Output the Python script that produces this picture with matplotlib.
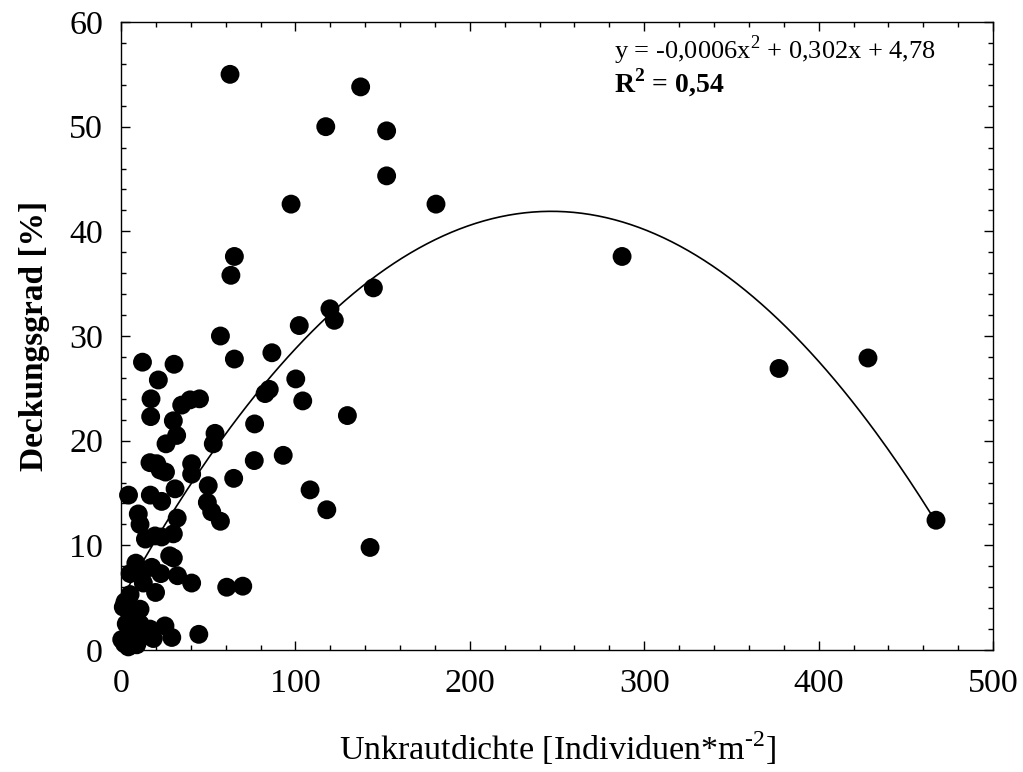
import numpy as np
import matplotlib.pyplot as plt
from matplotlib.ticker import MultipleLocator

# Unkrautdichte [Individuen/m2] und Deckungsgrad [%]
dichte = [62.5, 137.4, 117.4, 152.3, 152.3, 97.5, 180.6, 287.3, 65.0, 63.0,
          144.7, 119.8, 122.3, 102.2, 57.0, 65.0, 428.3, 377.3, 86.5, 12.3,
          30.4, 21.4, 100.2, 17.2, 34.8, 39.6, 45.0, 82.6, 85.0, 104.2,
          129.8, 17.0, 30.0, 76.6, 31.9, 25.8, 53.9, 52.9, 16.6, 20.5,
          22.4, 25.5, 40.5, 40.5, 76.4, 93.0, 64.6, 4.3, 16.8, 23.3,
          31.0, 50.0, 49.5, 52.0, 57.0, 108.4, 118.0, 142.8, 9.9, 10.9,
          32.2, 14.0, 19.5, 23.3, 30.0, 27.9, 30.0, 8.5, 5.2, 11.9,
          17.6, 22.8, 32.4, 40.5, 12.8, 19.8, 60.6, 69.8, 5.2, 2.3,
          1.3, 10.9, 7.1, 10.9, 16.6, 25.2, 29.1, 18.5, 44.6, 0.4,
          4.2, 9.0, 12.8, 5.2, 467.3, 2.0, 6.0, 3.0, 8.0]
deckung = [55.0, 53.8, 50.0, 49.6, 45.3, 42.6, 42.6, 37.6, 37.6, 35.8,
           34.6, 32.6, 31.5, 31.0, 30.0, 27.8, 27.9, 26.9, 28.4, 27.5,
           27.3, 25.8, 25.9, 24.0, 23.4, 23.9, 24.0, 24.5, 24.9, 23.8,
           22.4, 22.3, 21.9, 21.6, 20.5, 19.7, 20.7, 19.7, 17.9, 17.8,
           17.2, 17.0, 17.8, 16.8, 18.1, 18.6, 16.4, 14.8, 14.8, 14.2,
           15.4, 15.7, 14.1, 13.2, 12.3, 15.3, 13.4, 9.8, 13.0, 12.0,
           12.6, 10.6, 10.9, 10.8, 11.1, 9.0, 8.8, 8.3, 7.3, 7.3,
           7.9, 7.3, 7.1, 6.4, 6.4, 5.5, 6.0, 6.1, 5.3, 4.6,
           4.1, 3.9, 2.9, 2.5, 2.0, 2.3, 1.2, 1.1, 1.5, 1.0,
           0.3, 0.5, 1.3, 1.8, 12.4, 0.6, 1.2, 2.5, 3.5]

# Trendlinie (polynomisch, 2. Ordnung)
koeff = [-0.00061, 0.301, 4.78]
gleichung = 'y = -0,0006x$^2$ + 0,302x + 4,78'
bestimmtheit = 'R$^\\mathbf{2}$ = 0,54'

plt.rcParams['font.family'] = ['Liberation Serif', 'DejaVu Serif']
plt.rcParams['mathtext.fontset'] = 'custom'
plt.rcParams['mathtext.rm'] = 'Liberation Serif'
plt.rcParams['mathtext.bf'] = 'Liberation Serif:bold'

fig = plt.figure(figsize=(10.23, 7.72), dpi=100)
ax = fig.add_axes([0.1183, 0.158, 0.8524, 0.8135])

ax.scatter(dichte, deckung, s=185, color='black', edgecolors='none',
           zorder=3, clip_on=False)

xs = np.linspace(min(dichte), max(dichte), 300)
ax.plot(xs, np.polyval(koeff, xs), color='black', lw=1.2, zorder=2)

ax.set_xlim(0, 500)
ax.set_ylim(0, 60)
ax.xaxis.set_major_locator(MultipleLocator(100))
ax.xaxis.set_minor_locator(MultipleLocator(20))
ax.yaxis.set_major_locator(MultipleLocator(10))
ax.yaxis.set_minor_locator(MultipleLocator(2))
ax.tick_params(which='both', direction='in', top=True, right=True, width=1)
ax.tick_params(which='major', length=6.5, labelsize=24.5, pad=13)
ax.tick_params(which='minor', length=3.8)
for s in ax.spines.values():
    s.set_linewidth(1)

ax.set_xlabel('Unkrautdichte [Individuen*m$^{\\text{-}2}$]', fontsize=24.5,
              labelpad=22)
ax.set_ylabel('Deckungsgrad [%]', fontsize=24, fontweight='bold', labelpad=14)

ax.text(0.565, 0.955, gleichung, transform=ax.transAxes, fontsize=19, va='center')
ax.text(0.565, 0.903, bestimmtheit, transform=ax.transAxes, fontsize=20,
        fontweight='bold', va='center')

fig.savefig('out.png', dpi=100)
